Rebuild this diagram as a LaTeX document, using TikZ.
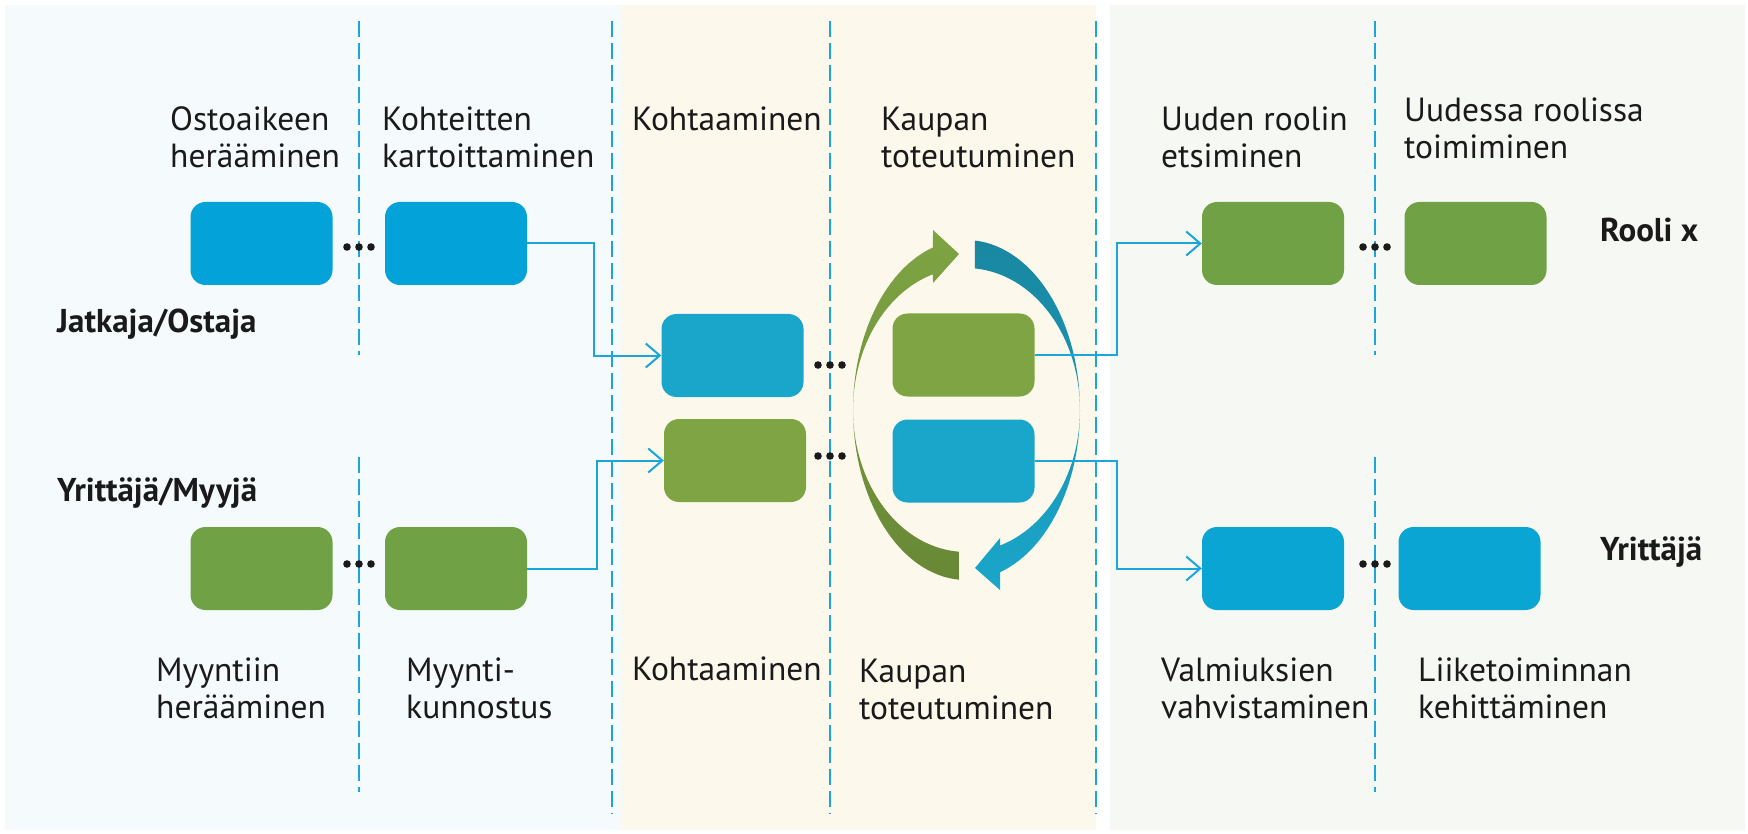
\documentclass[tikz,border=0pt]{standalone}
\usepackage{fontspec}
\setmainfont{PT Sans}
\usetikzlibrary{arrows.meta}

\definecolor{blueA}{RGB}{3,163,217}
\definecolor{blueM}{RGB}{26,166,202}
\definecolor{blueR}{RGB}{10,165,211}
\definecolor{greenA}{RGB}{112,161,68}
\definecolor{greenM}{RGB}{126,164,67}
\definecolor{greenD}{RGB}{104,136,54}
\definecolor{tealD}{RGB}{26,135,160}
\definecolor{lineblue}{RGB}{26,166,218}
\definecolor{bgleft}{RGB}{245,251,252}
\definecolor{bgmid}{RGB}{252,249,236}
\definecolor{bgright}{RGB}{246,248,243}
\definecolor{txt}{RGB}{26,26,26}

\tikzset{
  stepbox/.style={rounded corners=15pt, minimum width=142pt, minimum height=83pt, inner sep=0pt},
  divider/.style={lineblue, line width=2pt, dash pattern=on 16pt off 6pt},
  link/.style={lineblue, line width=2pt, -{Straight Barb[length=14pt,width=24pt,line width=2pt]}},
  lbl/.style={anchor=base west, align=left, inner sep=0pt, text=txt, font=\fontsize{33.5}{37}\selectfont},
  who/.style={lbl, font=\bfseries\fontsize{33}{38}\selectfont}
}

\begin{document}
\begin{tikzpicture}[x=1pt,y=-1pt]
\useasboundingbox (0,0) rectangle (1748,834);
\fill[white] (0,0) rectangle (1748,834);
\fill[bgleft] (5,5) rectangle (622,830);
\fill[bgmid] (622,5) rectangle (1096,830);
\fill[bgright] (1110,5) rectangle (1745,830);

\foreach \x in {612,830,1096}
  \draw[divider] (\x,21) -- (\x,814);
\foreach \x in {359,1375} {
  \draw[divider] (\x,21) -- (\x,355);
  \draw[divider] (\x,457) -- (\x,792);
}

% vaihekuvaukset (base = viimeisen rivin perusviiva)
\node[lbl] (t1) at (170,168) {Ostoaikeen\\herääminen};
\node[lbl] (t2) at (382,168) {Kohteitten\\kartoittaminen};
\node[lbl] (t3) at (632,131) {Kohtaaminen};
\node[lbl] (t4) at (881,168) {Kaupan\\toteutuminen};
\node[lbl] (t5) at (1161,168) {Uuden roolin\\etsiminen};
\node[lbl] (t6) at (1404,159) {Uudessa roolissa\\toimiminen};
\node[lbl] (b1) at (156,718) {Myyntiin\\herääminen};
\node[lbl] (b2) at (406,718) {Myynti-\\kunnostus};
\node[lbl] (b3) at (632,680) {Kohtaaminen};
\node[lbl] (b4) at (859,719) {Kaupan\\toteutuminen};
\node[lbl] (b5) at (1161,718) {Valmiuksien\\vahvistaminen};
\node[lbl] (b6) at (1418,718) {Liiketoiminnan\\kehittäminen};

\node[who] (ostaja) at (57,333) {Jatkaja/Ostaja};
\node[who] (myyja) at (57,501) {Yrittäjä/Myyjä};
\node[who] (rooli) at (1600,242) {Rooli x};
\node[who] (yrittaja) at (1600,560) {Yrittäjä};

% kiertonuolet
\shade[top color=greenM, bottom color=greenD]
  plot[domain=93.6:253, samples=60] ({966+113*cos(\x)},{410+170*sin(\x)})
  -- (933,230) -- (959,254) -- (933,283)
  -- plot[domain=253:93.6, samples=60] ({966+113*cos(\x)},{410+142*sin(\x)}) -- cycle;
\shade[top color=tealD, bottom color=blueM]
  plot[domain=-85.5:72.6, samples=60] ({966+114*cos(\x)},{410+170*sin(\x)})
  -- (1000,590) -- (975,568) -- (1000,538)
  -- plot[domain=72.6:-85.5, samples=60] ({966+114*cos(\x)},{410+142*sin(\x)}) -- cycle;

\node[stepbox, fill=blueA] (herays) at (261.5,243.5) {};
\node[stepbox, fill=blueA] (kartoitus) at (456,243.5) {};
\node[stepbox, fill=greenA] (myyntiher) at (261.5,568.5) {};
\node[stepbox, fill=greenA] (kunnostus) at (456,568.5) {};
\node[stepbox, fill=blueM] (kohtO) at (732.5,355.5) {};
\node[stepbox, fill=greenM] (kohtM) at (735,460.5) {};
\node[stepbox, fill=greenM] (kauppaO) at (963.5,355) {};
\node[stepbox, fill=blueM] (kauppaM) at (963.5,461) {};
\node[stepbox, fill=greenA] (uusirooli) at (1273,243.5) {};
\node[stepbox, fill=greenA] (roolissa) at (1475.5,243.5) {};
\node[stepbox, fill=blueR] (valmius) at (1273,568.5) {};
\node[stepbox, fill=blueR] (kehitys) at (1469.5,568.5) {};

\foreach \x/\y in {359/247, 359/564, 830/365, 830/456, 1375/247, 1375/564}
  \foreach \d in {-12,0,12}
    \fill[txt] (\x+\d,\y) circle (3.8);

\draw[link] (kartoitus.east) -- ++(67,0) |- (kohtO.west);
\draw[link] (kunnostus.east) -- ++(70,0) |- (kohtM.west);
\draw[link] (kauppaO.east) -- ++(82,0) |- (uusirooli.west);
\draw[link] (kauppaM.east) -- ++(82,0) |- (valmius.west);
\end{tikzpicture}
\end{document}
